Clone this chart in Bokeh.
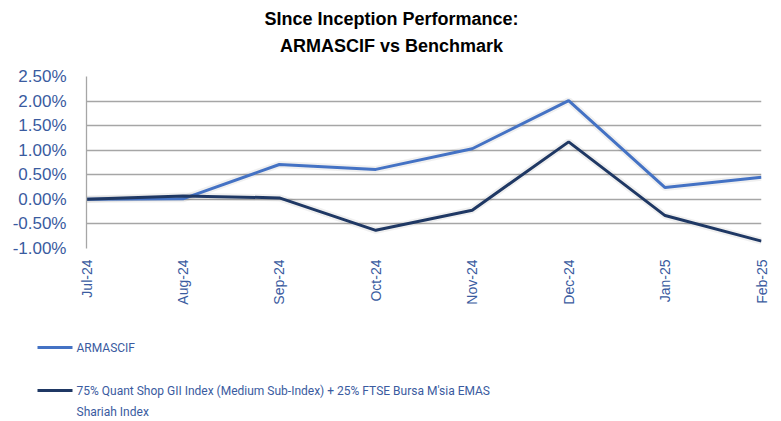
import math
from bokeh.plotting import figure
from bokeh.models import Range1d, FixedTicker
from bokeh.core.properties import value
from bokeh.embed import file_html
from bokeh.resources import INLINE

months = ["Jul-24", "Aug-24", "Sep-24", "Oct-24", "Nov-24", "Dec-24", "Jan-25", "Feb-25"]
armascif = [0.00, 0.01, 0.71, 0.61, 1.03, 2.01, 0.24, 0.45]
benchmark = [0.00, 0.07, 0.03, -0.63, -0.22, 1.17, -0.33, -0.85]
y_ticks = [-1.0, -0.5, 0.0, 0.5, 1.0, 1.5, 2.0, 2.5]

series_names = ["ARMASCIF",
                "75% Quant Shop GII Index (Medium Sub-Index) + 25% FTSE Bursa M'sia EMAS"]
series_name_cont = "Shariah Index"
title_lines = ["SInce Inception Performance:", "ARMASCIF vs Benchmark"]

C_FUND = "#4472C4"
C_BENCH = "#1F3864"
C_TEXT = "#3A5BA0"
C_GRID = "#A6A6A6"
FONT = "Liberation Sans"
LFONT = "Roboto"

x = list(range(len(months)))

W = 781
H0, H1, H2 = 66, 264, 91
FL, FT, FW, FH = 86, 10, 675, 172


def pixel_panel(h):
    f = figure(width=W, height=h, output_backend="svg", toolbar_location=None,
               x_range=Range1d(0, W), y_range=Range1d(h, 0),
               min_border_left=0, min_border_right=0, min_border_top=0,
               min_border_bottom=0, x_axis_location=None, y_axis_location=None)
    f.frame_width = W
    f.frame_height = h
    f.outline_line_color = None
    f.grid.visible = False
    f.background_fill_color = "white"
    f.border_fill_color = "white"
    return f


# title panel
tt = pixel_panel(H0)
tt.text(x=[391, 391], y=[18, 45], text=title_lines, text_color="black",
        text_font=value(FONT), text_font_style="bold", text_font_size="18px",
        text_align="center", text_baseline="middle")

# chart
p = figure(width=W, height=H1, output_backend="svg", toolbar_location=None,
           x_range=Range1d(0, len(months) - 1), y_range=Range1d(-1.0, 2.5),
           min_border_left=FL, min_border_top=FT,
           min_border_right=W - FL - FW, min_border_bottom=H1 - FT - FH)
p.frame_width = FW
p.frame_height = FH
p.outline_line_color = None
p.background_fill_color = "white"
p.border_fill_color = "white"

p.xgrid.grid_line_color = None
p.ygrid.grid_line_color = C_GRID
p.ygrid.grid_line_width = 1.3
p.ygrid.ticker = FixedTicker(ticks=y_ticks)

yax = p.yaxis[0]
yax.ticker = FixedTicker(ticks=y_ticks)
yax.major_label_overrides = {t: f"{t:.2f}%" for t in y_ticks}
yax.axis_line_color = C_GRID
yax.axis_line_width = 1.3
yax.major_tick_line_color = None
yax.minor_tick_line_color = None
yax.major_label_standoff = 14
yax.major_label_text_color = C_TEXT
yax.major_label_text_font = FONT
yax.major_label_text_font_size = "17px"

xax = p.xaxis[0]
xax.ticker = FixedTicker(ticks=x)
xax.major_label_overrides = {i: m for i, m in enumerate(months)}
xax.major_label_orientation = math.pi / 2
xax.axis_line_color = None
xax.major_tick_line_color = None
xax.minor_tick_line_color = None
xax.major_label_standoff = 5
xax.major_label_text_color = C_TEXT
xax.major_label_text_font = FONT
xax.major_label_text_font_size = "14px"

p.line(x, armascif, line_color="#000000", line_alpha=0.06, line_width=7)
p.line(x, benchmark, line_color="#000000", line_alpha=0.06, line_width=7)
p.line(x, armascif, line_color=C_FUND, line_width=3)
p.line(x, benchmark, line_color=C_BENCH, line_width=3)

# legend panel
lg = pixel_panel(H2)
row_y = [17, 60]
lg.segment(x0=[37, 37], y0=row_y, x1=[72, 72], y1=row_y,
           line_color=[C_FUND, C_BENCH], line_width=3)
lg.text(x=[76, 76, 76], y=row_y + [81],
        text=[series_names[0], series_names[1], series_name_cont],
        text_color=C_TEXT, text_font=value(LFONT), text_font_size="12px",
        text_baseline="middle", text_align="left")

open("out.html", "w").write(file_html([tt, p, lg], INLINE))
